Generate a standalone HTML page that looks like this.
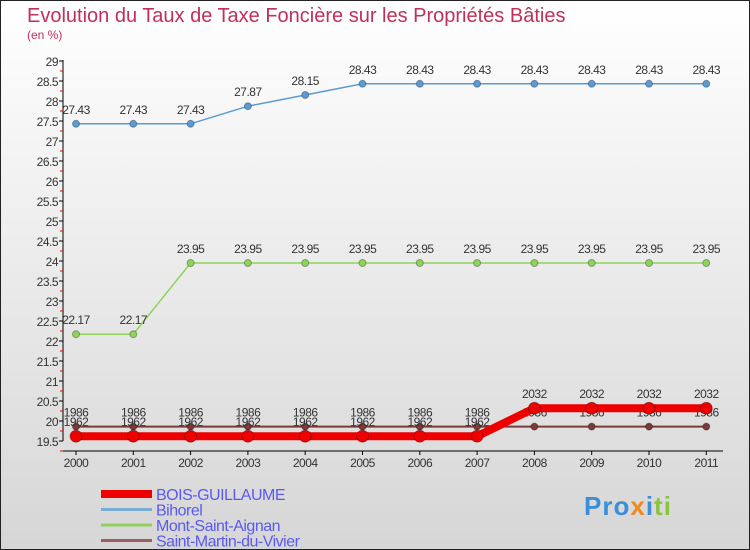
<!DOCTYPE html>
<html><head><meta charset="utf-8"><style>
body{margin:0}
#c{position:relative;width:750px;height:550px;font-family:"Liberation Sans",sans-serif;background:linear-gradient(#ffffff,#d6d6d6);box-sizing:border-box;border:1px solid #222;overflow:hidden}
.t{position:absolute;color:#c0305a}
</style></head><body>
<div id="c">
<div class="t" style="left:26px;top:4px;font-size:20px">Evolution du Taux de Taxe Foncière sur les Propriétés Bâties</div>
<div class="t" style="left:26px;top:27px;font-size:12px">(en %)</div>
<svg id="s" width="750" height="550" style="position:absolute;left:0;top:0"></svg>
<div style="position:absolute;left:583px;top:490px;font-size:26px;font-weight:bold;letter-spacing:1px"><span style="color:#3a8fd8">Pro</span><span style="color:#f08a1c">x</span><span style="color:#3a8fd8">i</span><span style="color:#8ac43f">ti</span></div>
</div>
<script>
const years=[2000,2001,2002,2003,2004,2005,2006,2007,2008,2009,2010,2011];
const boisValues=[19.62,19.62,19.62,19.62,19.62,19.62,19.62,19.62,20.32,20.32,20.32,20.32];
const bihorelValues=[27.43,27.43,27.43,27.87,28.15,28.43,28.43,28.43,28.43,28.43,28.43,28.43];
const montValues=[22.17,22.17,23.95,23.95,23.95,23.95,23.95,23.95,23.95,23.95,23.95,23.95];
const smValues=[19.86,19.86,19.86,19.86,19.86,19.86,19.86,19.86,19.86,19.86,19.86,19.86];
const yTicks=[19.5,20,20.5,21,21.5,22,22.5,23,23.5,24,24.5,25,25.5,26,26.5,27,27.5,28,28.5,29];
const seriesNames=["BOIS-GUILLAUME","Bihorel","Mont-Saint-Aignan","Saint-Martin-du-Vivier"];
const NS="http://www.w3.org/2000/svg",svg=document.getElementById('s');
const x=i=>75+i*57.3, y=v=>440-(v-19.5)*40;
function el(t,a,p){const e=document.createElementNS(NS,t);for(const k in a)e.setAttribute(k,a[k]);(p||svg).appendChild(e);return e;}
const axis=el('g',{});


el('line',{x1:62,y1:59,x2:62,y2:440,stroke:'#000'},axis);
el('line',{x1:62,y1:450,x2:722,y2:450,stroke:'#000'},axis);
yTicks.forEach(v=>{
 el('line',{x1:58,y1:y(v),x2:62,y2:y(v),stroke:'#000'},axis);
 el('line',{x1:59,y1:y(v)+10,x2:62,y2:y(v)+10,stroke:'#e00'},axis);
 const t=el('text',{x:57,y:y(v)+5,'text-anchor':'end','font-size':12,fill:'#333','letter-spacing':'-0.5'},axis);
 
 
 t.textContent=v;
});
years.forEach((yr,i)=>{
 el('line',{x1:x(i),y1:450,x2:x(i),y2:454,stroke:'#000'},axis);
 const t=el('text',{x:x(i),y:466,'text-anchor':'middle','font-size':12,fill:'#333','letter-spacing':'-0.5'},axis);
 
 
 t.textContent=yr;
});
function series(vals,color,w,r,name,fmt){
 const g=el('g',{});
 
 
 el('polyline',{points:vals.map((v,i)=>x(i)+','+y(v)).join(' '),fill:'none',stroke:color,'stroke-width':w},g);
 vals.forEach((v,i)=>{
  const c=el('circle',{cx:x(i),cy:y(v),r:r,fill:color,stroke:'rgba(0,0,0,0.3)'},g);
  
  
  const t=el('text',{x:x(i),y:y(v)-10,'text-anchor':'middle','font-size':12,fill:'#333','letter-spacing':'-0.5'},g);
  
  
  t.textContent=fmt(v);
 });
}
const plain=v=>String(v), nodot=v=>v.toFixed(2).replace('.','');
series(smValues,'#7a3a3a',2,3.5,'series-saint-martin',nodot);
series(montValues,'#8fd45a',1.5,3.5,'series-mont-saint-aignan',plain);
series(bihorelValues,'#5b9bd5',1.5,3.5,'series-bihorel',plain);
series(boisValues,'#ee0000',8,6,'series-bois-guillaume',nodot);
const colors=['#ee0000','#7aaed0','#90d060','#9a6060'],widths=[8,3,3,3];
seriesNames.forEach((n,i)=>{
 const g=el('g',{});
 
 
 const ly=493+i*15.5;
 el('line',{x1:100,y1:ly,x2:151,y2:ly,stroke:colors[i],'stroke-width':widths[i]},g);
 const t=el('text',{x:155,y:ly+6,'font-size':16,fill:'#5a5af0','letter-spacing':'-0.5'},g);
 t.textContent=n;
});
</script>
</body></html>
